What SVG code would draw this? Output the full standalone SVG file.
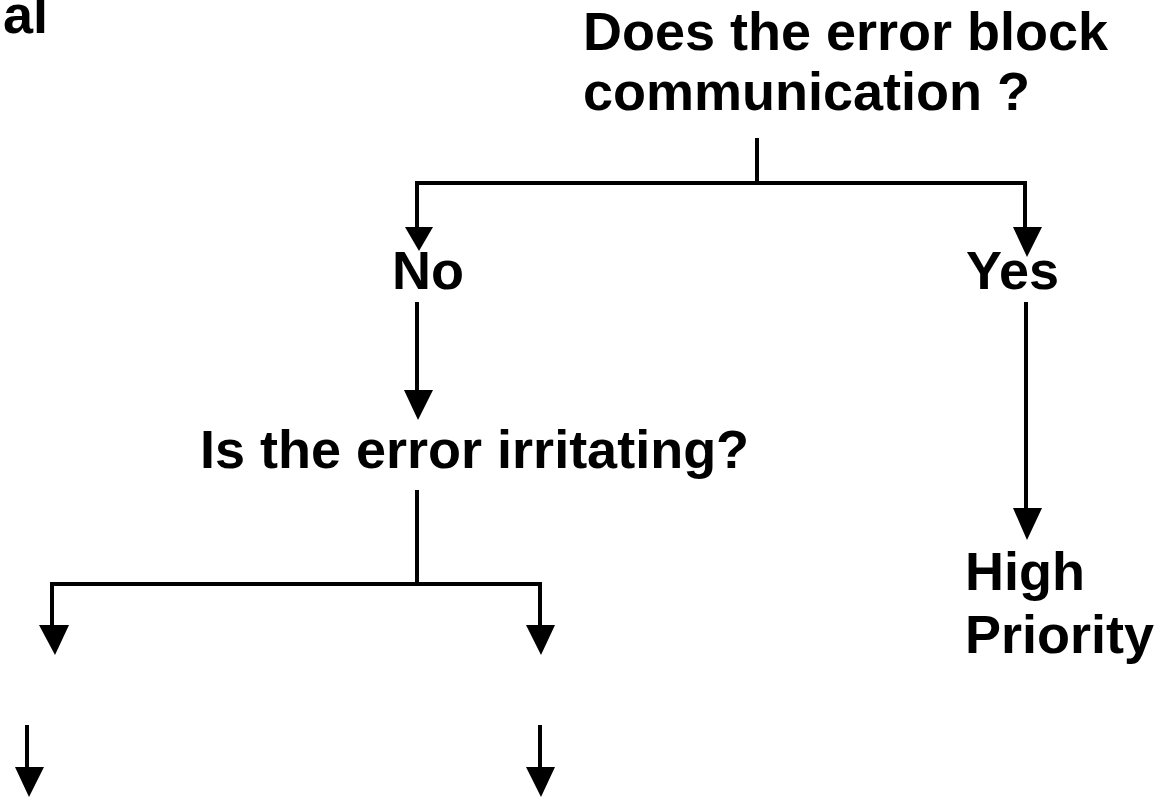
<svg xmlns="http://www.w3.org/2000/svg" width="1167" height="797" viewBox="0 0 1167 797">
<defs>
<style>
text{font-family:"Liberation Sans",Arial,sans-serif;font-weight:bold;font-size:54px;fill:#000}
.ln{fill:none;stroke:#000;stroke-width:4}
.ah{fill:#000}
</style>
</defs>
<rect width="1167" height="797" fill="#fff"/>
<g id="connectors">
<path class="ln" d="M757,138V183M417,228V183H1025V228"/>
<polygon class="ah" points="405,227 433,227 419,251"/>
<polygon class="ah" points="1013,227 1042,227 1027,257"/>
<path class="ln" d="M417,302V390"/>
<polygon class="ah" points="404,390 433,390 418,420"/>
<path class="ln" d="M1026,302V508"/>
<polygon class="ah" points="1013,508 1042,508 1027,540"/>
<path class="ln" d="M417,490V584M52,625V584H540V625"/>
<polygon class="ah" points="39,625 69,625 55,655"/>
<polygon class="ah" points="526,625 555,625 541,655"/>
<path class="ln" d="M27,725V767"/>
<polygon class="ah" points="15,767 44,767 29,797"/>
<path class="ln" d="M540,725V767"/>
<polygon class="ah" points="526,767 555,767 541,797"/>
</g>
<g id="title-fragment"><text x="3" y="33">al</text></g>
<g id="q1"><text x="583" y="50">Does the error block</text><text x="583" y="110">communication ?</text></g>
<g id="no"><text x="392" y="289">No</text></g>
<g id="yes"><text x="966" y="289">Yes</text></g>
<g id="q2"><text x="200" y="468">Is the error irritating?</text></g>
<g id="high"><text x="965" y="590">High</text><text x="965" y="653">Priority</text></g>
</svg>
